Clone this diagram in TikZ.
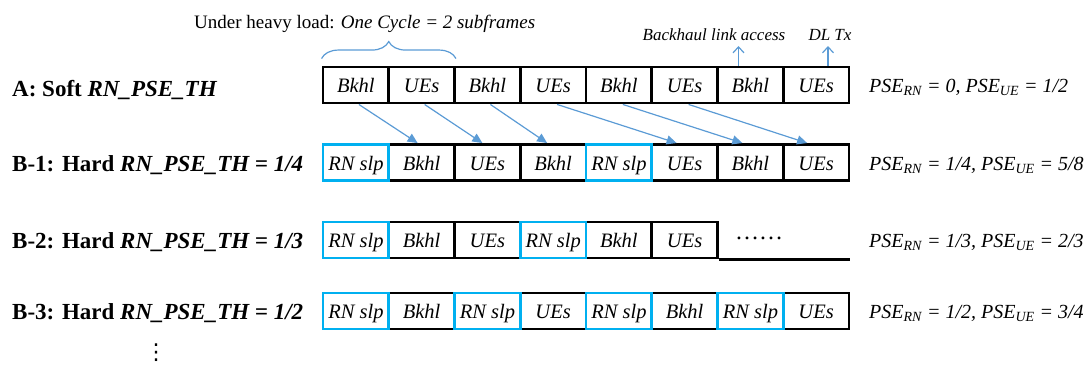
\documentclass[tikz,border=0pt]{standalone}
\usepackage{fontspec}
\setmainfont{Liberation Serif}
\newfontfamily\symbolfont{DejaVu Sans}
\usetikzlibrary{arrows.meta,decorations.pathreplacing}
\definecolor{linkblue}{HTML}{5B9BD5}
\definecolor{slpblue}{HTML}{00B0F0}

\begin{document}
\begin{tikzpicture}[x=1pt,y=-1pt,
  cell/.style={draw=black, line width=2.9pt, fill=white,
    minimum width=65.75pt, minimum height=36pt, inner sep=0pt,
    text height=16.5pt, text depth=1pt,
    font=\fontsize{20.5}{23}\selectfont\itshape},
  slp/.style={cell, draw=slpblue},
  rowlabel/.style={anchor=base west, inner sep=0pt,
    font=\fontsize{23}{26}\selectfont\bfseries},
  pse/.style={anchor=base west, inner sep=0pt,
    font=\fontsize{20}{22}\selectfont\itshape},
  shiftarrow/.style={-{Triangle[length=10pt,width=9pt]}, linkblue, line width=1.2pt},
  uparrow/.style={-{Straight Barb[length=6pt,width=11pt]}, linkblue, line width=1.2pt},
  note/.style={anchor=base, inner sep=0pt, font=\fontsize{17}{20}\selectfont\itshape}
]
\useasboundingbox (0,0) rectangle (1086,364);

% cell centre: x = 355.875 + 65.75*i
% Row A: soft threshold
\foreach \t [count=\i from 0] in {Bkhl,UEs,Bkhl,UEs,Bkhl,UEs,Bkhl,UEs}
  \node[cell] (a\i) at ({355.875+65.75*\i},85) {\t};

% Row B-1
\foreach \i/\t in {1/Bkhl,2/UEs,3/Bkhl,5/UEs,6/Bkhl,7/UEs}
  \node[cell] (p\i) at ({355.875+65.75*\i},162.5) {\t};
\foreach \i in {0,4}
  \node[slp] (p\i) at ({355.875+65.75*\i},162.5) {RN slp};

% Row B-2
\foreach \i/\t in {1/Bkhl,2/UEs,4/Bkhl,5/UEs}
  \node[cell] (q\i) at ({355.875+65.75*\i},240) {\t};
\foreach \i in {0,3}
  \node[slp] (q\i) at ({355.875+65.75*\i},240) {RN slp};

% Row B-3
\foreach \i/\t in {1/Bkhl,3/UEs,5/Bkhl,7/UEs}
  \node[cell] (r\i) at ({355.875+65.75*\i},311) {\t};
\foreach \i in {0,2,4,6}
  \node[slp] (r\i) at ({355.875+65.75*\i},311) {RN slp};

% open end of row B-2
\draw[line width=2.9pt] (q5.south east) -- (q5.south east -| r7.south east);
\node[anchor=base, inner sep=0pt, font=\fontsize{24}{24}\selectfont] (qdots) at (759,239) {……};

% row labels
\node[rowlabel] (la) at (12,96) {A: Soft \textit{RN\_PSE\_TH}};
\node[rowlabel] (lb1) at (12,171) {B-1: Hard \textit{RN\_PSE\_TH = 1/4}};
\node[rowlabel] (lb2) at (12,248.5) {B-2: Hard \textit{RN\_PSE\_TH = 1/3}};
\node[rowlabel] (lb3) at (12,319.5) {B-3: Hard \textit{RN\_PSE\_TH = 1/2}};
\node[inner sep=0pt, font=\fontsize{22}{22}\selectfont\symbolfont] (more) at (156,353) {⋮};

% power saving efficiencies
\node[pse] (ea) at (869,92.5) {PSE\textsubscript{RN} = 0, PSE\textsubscript{UE} = 1/2};
\node[pse] (eb1) at (869,170) {PSE\textsubscript{RN} = 1/4, PSE\textsubscript{UE} = 5/8};
\node[pse] (eb2) at (869,247.5) {PSE\textsubscript{RN} = 1/3, PSE\textsubscript{UE} = 2/3};
\node[pse] (eb3) at (869,318.5) {PSE\textsubscript{RN} = 1/2, PSE\textsubscript{UE} = 3/4};

% cycle annotation
\node[anchor=base west, inner sep=0pt, font=\fontsize{19}{22}\selectfont] (cycle) at (194,28)
  {Under heavy load: \textit{One Cycle = 2 subframes}};
\draw[linkblue, line width=1.2pt, decorate, decoration={brace, amplitude=17pt}]
  ([yshift=7pt]a0.north west) -- ([yshift=7pt]a1.north east);

% shifted subframes
\foreach \s/\d/\ds/\dd in {0/1/3/-4,1/2/3/-5,2/3/3/-6,3/5/4/-8,4/6/4/-8,5/7/4/-9}
  \draw[shiftarrow] ([xshift=\ds pt]a\s.south) -- ([xshift=\dd pt]p\d.north);

% annotations of the last cycle
\coordinate (bhtip) at (738.5,46);
\coordinate (dltip) at (828,46);
\draw[uparrow] (a6.north -| bhtip) -- (bhtip);
\draw[uparrow] (a7.north -| dltip) -- (dltip);
\node[note] (bhlabel) at (714,40) {Backhaul link access};
\node[note] (dllabel) at (830,40) {DL Tx};
\end{tikzpicture}
\end{document}
